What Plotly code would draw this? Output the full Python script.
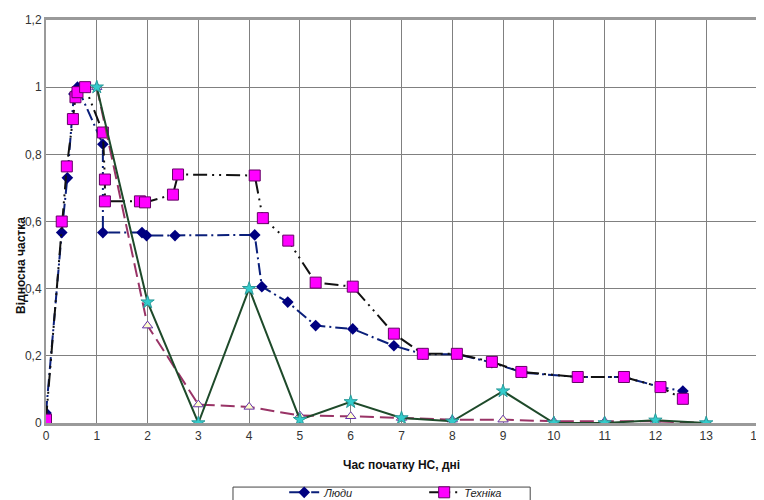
import plotly.graph_objects as go

# --- data ---
people_x = [0, 0.31, 0.42, 0.55, 0.62, 1.12, 1.12, 1.89, 1.98, 2.54, 4.11, 4.25, 4.76,
            5.31, 6.04, 6.85, 7.42, 8.09, 8.78, 9.39, 10.47, 11.38, 12.10, 12.54]
people_y = [0.03, 0.567, 0.73, 0.98, 1.0, 0.83, 0.567, 0.567, 0.558, 0.558, 0.56, 0.406, 0.36,
            0.29, 0.28, 0.23, 0.205, 0.205, 0.18, 0.15, 0.137, 0.137, 0.107, 0.095]

tech_x = [0, 0.31, 0.41, 0.53, 0.58, 0.62, 0.77, 1.12, 1.16, 1.16, 1.85, 1.95, 2.50, 2.60,
          4.11, 4.27, 4.77, 5.31, 6.04, 6.85, 7.42, 8.09, 8.78, 9.36, 10.47, 11.38, 12.10, 12.54]
tech_y = [0.01, 0.60, 0.764, 0.905, 0.97, 0.985, 1.0, 0.865, 0.725, 0.66, 0.66, 0.657, 0.68, 0.74,
          0.737, 0.61, 0.543, 0.418, 0.406, 0.266, 0.206, 0.206, 0.182, 0.152, 0.137, 0.137, 0.107, 0.072]

days = [1, 2, 3, 4, 5, 6, 7, 8, 9, 10, 11, 12, 13]
green_y = [1.0, 0.36, 0.0, 0.40, 0.01, 0.063, 0.015, 0.005, 0.095, 0.0, 0.0, 0.008, 0.0]
purple_y = [1.0, 0.29, 0.055, 0.048, 0.022, 0.02, 0.015, 0.01, 0.01, 0.005, 0.005, 0.005, 0.0]

x_ticks = list(range(0, 15))
y_ticks = [0, 0.2, 0.4, 0.6, 0.8, 1.0, 1.2]
y_labels = ["0", "0,2", "0,4", "0,6", "0,8", "1", "1,2"]

fig = go.Figure()

fig.add_trace(go.Scatter(
    x=people_x, y=people_y, name="Люди", mode="lines+markers",
    line=dict(color="#0a1f7a", width=2, dash="12px,4px,2px,4px"),
    marker=dict(symbol="diamond", size=9, color="#000080"),
))
fig.add_trace(go.Scatter(
    x=tech_x, y=tech_y, name="Техніка", mode="lines+markers",
    line=dict(color="#111111", width=2, dash="14px,5px,2px,5px,2px,5px"),
    marker=dict(symbol="square", size=11, color="#ff00ff",
                line=dict(color="#660066", width=1)),
))
fig.add_trace(go.Scatter(
    x=days, y=purple_y, name="Ряд 4", mode="lines+markers", showlegend=False,
    line=dict(color="#993366", width=2, dash="14px,6px"),
    marker=dict(symbol="triangle-up", size=9, color="#ffffcc",
                line=dict(color="#6633aa", width=1)),
))
fig.add_trace(go.Scatter(
    x=days, y=green_y, name="Ряд 3", mode="lines+markers", showlegend=False,
    line=dict(color="#1e4a2a", width=2),
    marker=dict(symbol="star", size=10, color="#33cccc",
                line=dict(color="#2a9a9a", width=1)),
))

# page body adds an 8px offset, so margins are reduced by that amount
fig.update_layout(
    width=764, height=500,
    margin=dict(l=38, r=15, t=12, b=85, autoexpand=False),
    paper_bgcolor="white", plot_bgcolor="white",
    font=dict(family="Liberation Sans, Arial, sans-serif", size=12, color="#333333"),
    showlegend=True,
    legend=dict(
        orientation="h", x=0.335, y=-0.136, xanchor="left", yanchor="top",
        entrywidth=95, bgcolor="rgba(0,0,0,0)", borderwidth=0,
        font=dict(size=11, color="#222222", style="italic"),
    ),
    xaxis=dict(
        range=[0, 14], tickvals=x_ticks, showgrid=True, gridcolor="#808080", gridwidth=1,
        showline=True, linecolor="#9a9a9a", linewidth=3, mirror=True,
        zeroline=False, ticks="", tickfont=dict(size=12, color="#333333"),
    ),
    yaxis=dict(
        range=[0, 1.2], tickvals=y_ticks, ticktext=y_labels, showgrid=True,
        gridcolor="#808080", gridwidth=1, showline=True, linecolor="#9a9a9a", linewidth=2,
        mirror=True, zeroline=False, ticks="", tickfont=dict(size=12, color="#333333"),
    ),
    annotations=[
        dict(text="<b>Час початку НС, дні</b>", xref="paper", yref="paper",
             x=0.5, y=-0.105, xanchor="center", yanchor="middle", showarrow=False,
             font=dict(size=12, color="#111111")),
        dict(text="<b>Відносна частка</b>", xref="paper", yref="paper",
             x=-0.035, y=0.39, xanchor="center", yanchor="middle", showarrow=False,
             textangle=-90, font=dict(size=12, color="#111111")),
    ],
    shapes=[
        dict(type="rect", xref="paper", yref="paper", x0=0.263, x1=0.681, y0=-0.159, y1=-0.25,
             line=dict(color="#444444", width=1), fillcolor="white", layer="below"),
    ],
)

fig.write_html("out.html")
